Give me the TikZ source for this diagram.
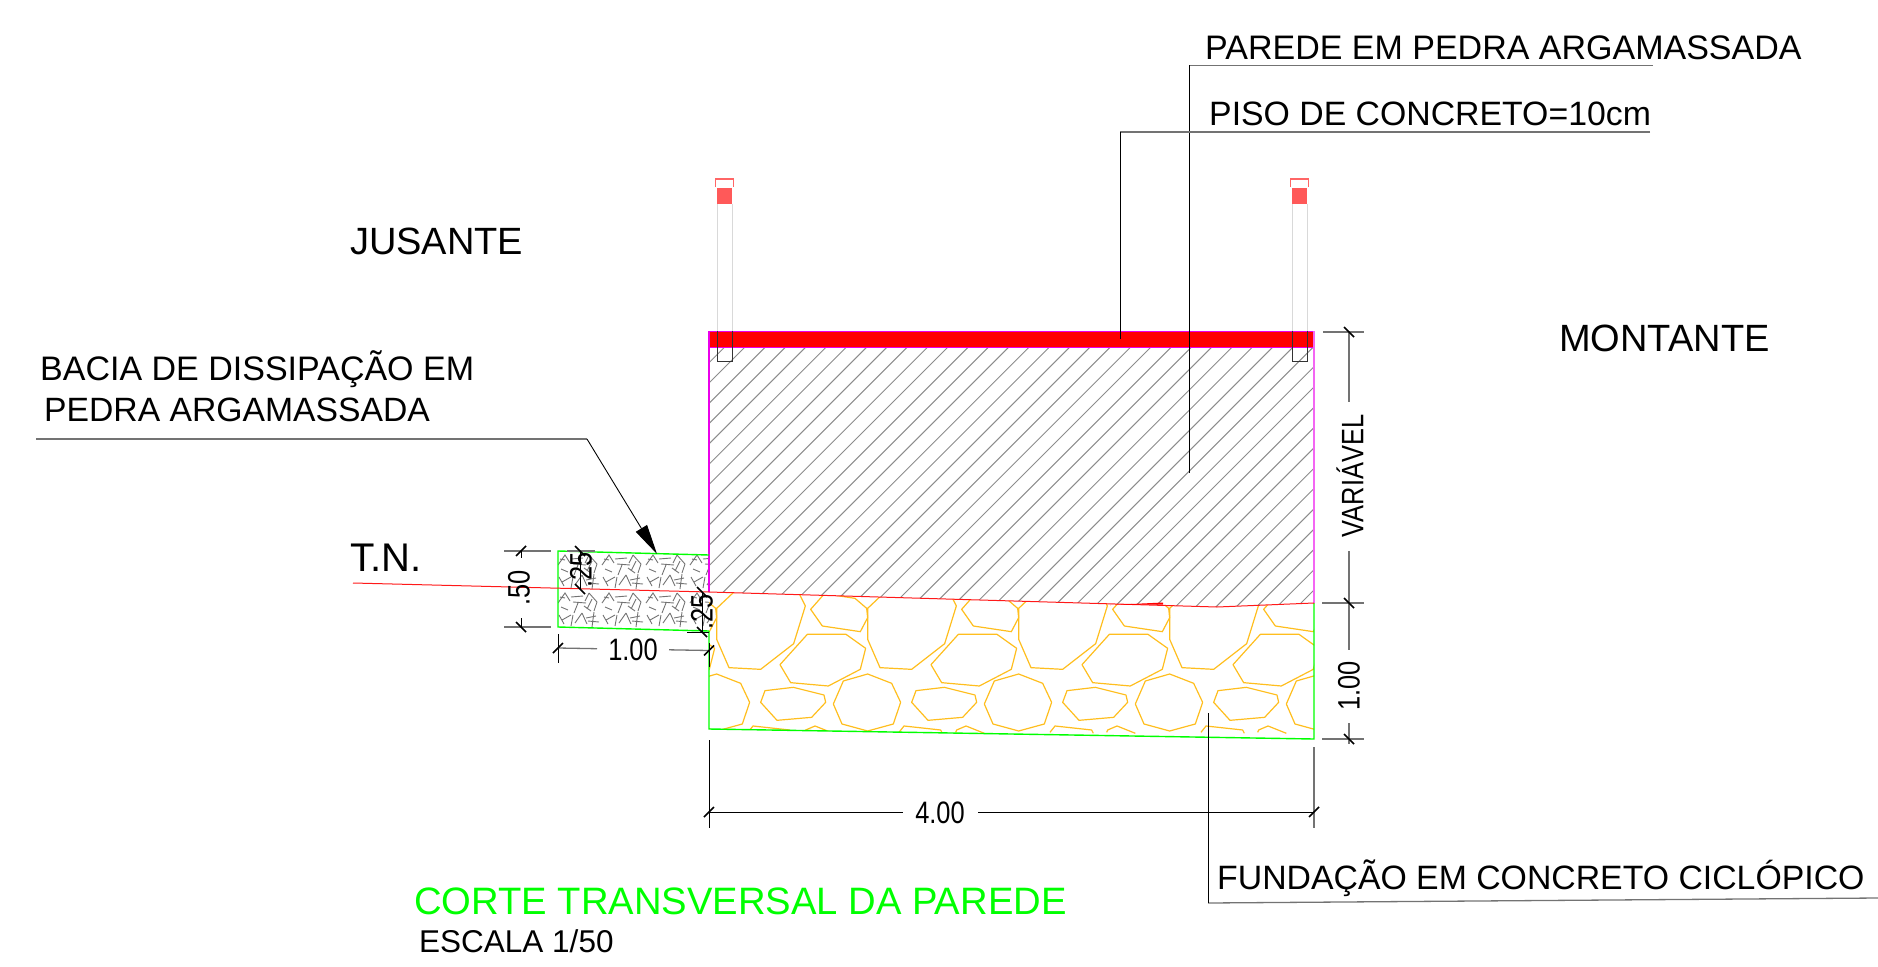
\documentclass[tikz,border=0pt]{standalone}
\usepackage{fontspec}
\setmainfont{Liberation Sans}
\usetikzlibrary{arrows.meta}
\definecolor{stone}{RGB}{255,190,30}
\definecolor{lime}{RGB}{0,255,0}
\definecolor{wallpink}{RGB}{235,0,235}
\tikzset{
	lbl/.style={inner sep=0pt, anchor=west, font=\fontsize{34}{34}\selectfont},
	big/.style={inner sep=0pt, anchor=west, font=\fontsize{38}{38}\selectfont},
	num/.style={inner sep=0pt, xscale=0.82, font=\fontsize{31}{31}\selectfont},
	leader/.style={black, line width=0.9pt},
	dimen/.style={black!55, line width=1.3pt},
	tick/.style={black, line width=1.7pt},
	hatch/.style={black!45, line width=1pt},
	conc/.style={black!55, line width=0.9pt},
	rock/.style={stone, line width=1.2pt, line join=round},
}
\begin{document}
\begin{tikzpicture}[x=1pt, y=-1pt]
	\useasboundingbox (0,0) rectangle (1878,966);

	\coordinate (wallTL) at (709,331);
	\coordinate (wallTR) at (1314,331);
	\coordinate (wallBL) at (709,592);
	\coordinate (wallBM) at (1217,607);
	\coordinate (wallBR) at (1314,603);
	\coordinate (footBL) at (709,729);
	\coordinate (footBR) at (1314,739);
	\coordinate (basinTL) at (558,551);
	\coordinate (basinTR) at (709,555);
	\coordinate (basinBL) at (558,627);
	\coordinate (basinBR) at (709,631);
	\coordinate (groundL) at (353,583);

	% hatching of the wall
	\begin{scope}
		\clip (709,347) -- (1314,347) -- (wallBR) -- (wallBM) -- (wallBL) -- cycle;
		\foreach \n in {-11,...,32}
			\draw[hatch] ({1701-20.3*\n-620},620) -- ({1701-20.3*\n-320},320);
	\end{scope}

	% stones of the foundation
	\begin{scope}
		\clip (wallBL) -- (wallBM) -- (wallBR) -- (footBR) -- (footBL) -- cycle;
		\foreach \k in {-1,...,3} {
			\begin{scope}[shift={({700+151*\k},580)}, x=0.3333pt, y=-0.3333pt]
				\draw[rock] (119,20) -- (50,85) -- (50,178) -- (87,263) -- (182,268) -- (281,191) -- (316,78) -- (287,20);
				\draw[rock] (370,45) -- (332,88) -- (367,138) -- (481,155) -- (503,113) -- (500,85) -- (465,55) -- (412,47);
				\draw[rock] (322,163) -- (438,163) -- (497,205) -- (481,268) -- (385,318) -- (272,308) -- (240,254) -- cycle;
				\draw[rock] (503,282) -- (575,310) -- (602,367) -- (580,432) -- (503,453) -- (426,432) -- (400,372) -- (430,303) -- cycle;
				\draw[rock] (195,332) -- (280,322) -- (372,345) -- (377,367) -- (335,412) -- (231,421) -- (182,367) -- cycle;
				\draw[rock] (144,457) -- (159,438) -- (269,450) -- (274,460);
				\draw[rock] (314,457) -- (317,450) -- (345,438) -- (400,460);
			\end{scope}
		}
	\end{scope}

	% filling of the basin
	\begin{scope}
		\clip (basinTL) -- (basinTR) -- (basinBR) -- (basinBL) -- cycle;
		\foreach \i in {0,...,3} {
			\foreach \j in {0,1} {
				\begin{scope}[shift={({556+44*\i},{553+38*\j})}]
					\draw[conc] (2,12) -- (9,2) -- (14,10) (5,16) -- (12,19) (9,7) -- (4,6);
					\draw[conc] (15,6) -- (27,5) (17,11) -- (30,12) (22,12) -- (18,22) (28,15) -- (35,20);
					\draw[conc] (33,2) -- (29,10) (33,2) -- (41,11) (36,8) -- (31,18) (41,11) -- (38,20);
					\draw[conc] (3,24) -- (8,33) (6,29) -- (15,24) (17,24) -- (15,35) (19,32) -- (26,22);
					\draw[conc] (26,22) -- (31,33) (30,27) -- (40,25) (32,30) -- (43,31) (38,21) -- (36,36);
				\end{scope}
			}
		}
	\end{scope}

	% red slab and outlines
	\fill[red] (wallTL) rectangle (1314,347);
	\draw[wallpink, line width=1pt] (wallTL) -- (wallTR) (709,347) -- (1314,347);
	\draw[wallpink, line width=1.4pt] (wallTL) -- (wallBL);
	\draw[wallpink!60, line width=1.8pt] (wallTR) -- (wallBR);
	\draw[lime, line width=1.4pt] (basinTR) -- (basinTL) -- (basinBL) -- (basinBR);
	\draw[lime, line width=1.4pt] (709,631) -- (footBL) -- (footBR) -- (wallBR);
	\draw[red!90, line width=1pt] (groundL) -- (wallBL) -- (wallBM) -- (wallBR);
	\fill[red] (1110,605) -- (1163,602.5) -- (1163,604.5) -- cycle;

	% posts
	\foreach \x in {717,1292} {
		\draw[red!60, line width=1.2pt] (\x-1.5,187) -- (\x-1.5,179) -- (\x+16.5,179) -- (\x+16.5,187);
		\fill[red!65] (\x,188) rectangle (\x+15,204);
		\draw[black!15, line width=1pt] (\x,204) -- (\x,331) (\x+15,204) -- (\x+15,331);
		\draw[black!80, line width=1pt] (\x,331) -- (\x,361) -- (\x+15,361) -- (\x+15,331);
	}

	% texts and leaders
	\node[lbl] (parede) at (1205,48) {PAREDE EM PEDRA ARGAMASSADA};
	\node[lbl, font=\fontsize{33.8}{34}\selectfont] (piso) at (1209,114) {PISO DE CONCRETO=10cm};
	\node[big] (jusante) at (350,241) {JUSANTE};
	\node[big] (montante) at (1559,338) {MONTANTE};
	\node[lbl] (bacia) at (40,369) {BACIA DE DISSIPAÇÃO EM};
	\node[lbl, font=\fontsize{33.7}{34}\selectfont] (pedra) at (44,410) {PEDRA ARGAMASSADA};
	\node[big, font=\fontsize{40}{40}\selectfont] (tn) at (350,558) {T.N.};
	\node[lbl, font=\fontsize{33.8}{34}\selectfont] (fundacao) at (1217,878) {FUNDAÇÃO EM CONCRETO CICLÓPICO};
	\node[big, text=lime, font=\fontsize{38.2}{38}\selectfont] (corte) at (414,901) {CORTE TRANSVERSAL DA PAREDE};
	\node[lbl, font=\fontsize{31.5}{32}\selectfont] (escala) at (419,941) {ESCALA 1/50};

	\coordinate (paredeA) at (1653,65.5);
	\coordinate (paredeB) at (1189,65.5);
	\coordinate (paredeC) at (1189,473);
	\coordinate (pisoA) at (1650,132);
	\coordinate (pisoB) at (1120,132);
	\coordinate (pisoC) at (1120,339);
	\coordinate (baciaA) at (36,439);
	\coordinate (baciaB) at (587,439);
	\coordinate (baciaC) at (657,554);
	\coordinate (fundA) at (1878,898);
	\coordinate (fundB) at (1208,903);
	\coordinate (fundC) at (1208,713);
	\draw[dimen] (paredeA) -- (paredeB);
	\draw[leader] (paredeB) -- (paredeC);
	\draw[dimen] (pisoA) -- (pisoB);
	\draw[leader] (pisoB) -- (pisoC);
	\draw[dimen] (fundA) -- (fundB);
	\draw[leader] (fundB) -- (fundC);
	\draw[dimen] (baciaA) -- (baciaB);
	\draw[leader, -{Triangle[length=30pt, width=13pt]}] (baciaB) -- (baciaC);

	% dimension 4.00
	\node[num] (d400) at (940,813) {4.00};
	\coordinate (d400L) at (709,812);
	\coordinate (d400R) at (1314,812);
	\draw[black, line width=0.9pt] (709,740) -- (709,828);
	\draw[dimen] (1314,747) -- (1314,828);
	\draw[leader] (d400L) -- (903,812) (978,812) -- (d400R);

	% dimensions on the right
	\coordinate (rA) at (1349,332);
	\coordinate (rB) at (1349,603);
	\coordinate (rC) at (1349,739);
	\node[rotate=90, num] (dvar) at (1350,476) {VARIÁVEL};
	\node[rotate=90, num] (d100r) at (1349,686) {1.00};
	\draw[dimen] (1323,332) -- (1364,332) (1322,603) -- (1364,603) (1322,739) -- (1364,739);
	\draw[dimen] (rA) -- (1349,402) (1349,551) -- (rB) -- (1349,650) (1349,723) -- (rC) -- (1349,744);

	% dimensions of the basin
	\coordinate (lA) at (521,551);
	\coordinate (lB) at (521,627);
	\coordinate (mA) at (580,551);
	\coordinate (mB) at (580,589);
	\coordinate (nA) at (702,592);
	\coordinate (nB) at (702,632);
	\coordinate (bL) at (558,648);
	\coordinate (bR) at (709,650.5);
	\draw[dimen] (504,551) -- (551,551) (504,627) -- (551,627);
	\draw[dimen] (567,551) -- (595,551);
	\draw[leader] (lA) -- (521,558) (521,618) -- (lB);
	\draw[leader] (mA) -- (mB) (nA) -- (nB) (687,632) -- (709,632);
	\draw[leader] (558,634) -- (558,663) (709,643) -- (709,667);
	\draw[dimen] (bL) -- (597,648.7) (669,649.8) -- (bR);
	\node[rotate=90, num] (d50) at (519,588) {.50};
	\node[rotate=90, num] (d25a) at (581,570) {.25};
	\node[rotate=90, num] (d25b) at (702,612) {.25};
	\node[num] (d100b) at (633,650) {1.00};

	% ticks
	\foreach \c in {rA,rB,rC,mA,mB,nA,nB,lB}
		\draw[tick, shift={(\c)}] (-5,-5) -- (5,5);
	\foreach \c in {d400L,d400R,bL,bR,lA}
		\draw[tick, shift={(\c)}] (-5,5) -- (5,-5);
\end{tikzpicture}
\end{document}
